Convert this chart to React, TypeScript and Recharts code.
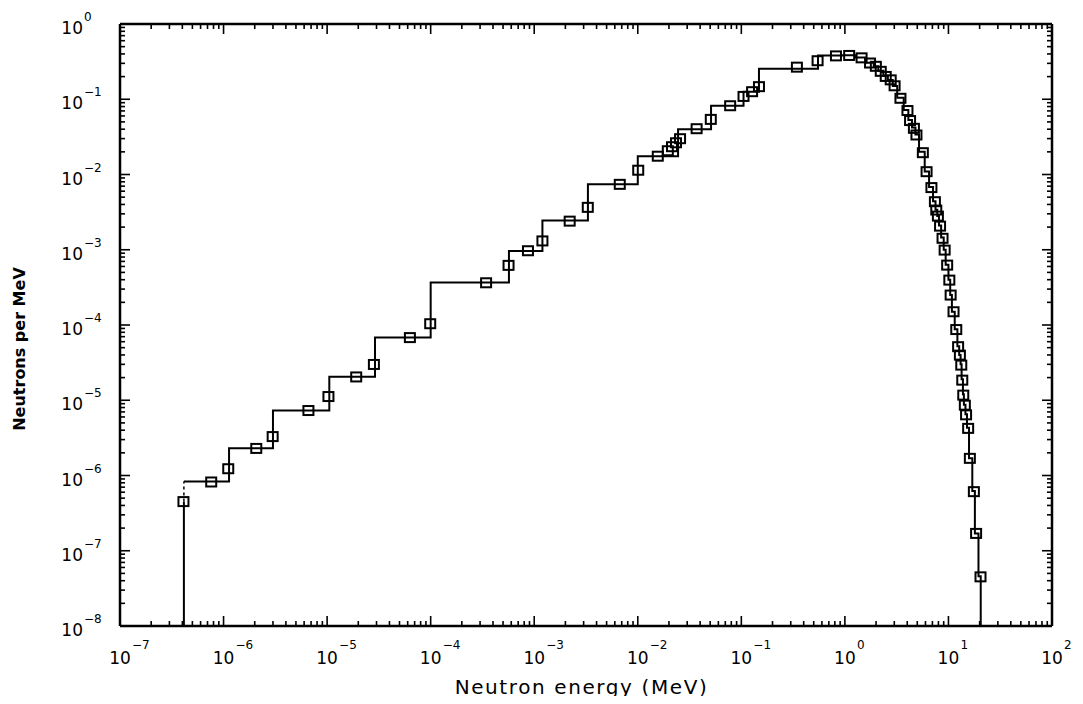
import { ComposedChart, Line, Scatter, XAxis, YAxis } from 'recharts';

// histogram group boundaries (MeV) and flux per group
const BIN_EDGES = [
  4.14e-7, 1.13e-6, 3.0e-6, 1.05e-5, 2.9e-5, 1.0e-4, 5.7e-4, 1.2e-3, 3.3e-3, 1.0e-2,
  2.45e-2, 5.1e-2, 0.105, 0.148, 0.55, 0.95, 1.25, 1.6, 1.9, 2.1,
  2.35, 2.6, 2.9, 3.2, 3.7, 4.1, 4.45, 4.8, 5.2, 5.9,
  6.5, 7.1, 7.5, 7.8, 8.1, 8.5, 9.0, 9.4, 10.0, 10.4,
  10.8, 11.5, 12.2, 12.7, 13.1, 13.4, 13.8, 14.1, 14.6, 15.1,
  15.8, 17.0, 18.0, 19.5, 20.5,
];
const BIN_VALUES = [
  8.3e-7, 2.3e-6, 7.3e-6, 2.05e-5, 6.8e-5, 3.66e-4, 9.6e-4, 2.45e-3, 7.4e-3, 1.75e-2,
  4.0e-2, 8.2e-2, 0.126, 0.255, 0.38, 0.385, 0.36, 0.305, 0.275, 0.24,
  0.205, 0.18, 0.15, 0.105, 0.072, 0.053, 0.042, 0.034, 0.02, 0.011,
  6.8e-3, 4.4e-3, 3.4e-3, 2.8e-3, 2.1e-3, 1.45e-3, 1.0e-3, 6.3e-4, 4.0e-4, 2.5e-4,
  1.5e-4, 8.8e-5, 5.2e-5, 4.0e-5, 3.0e-5, 1.9e-5, 1.2e-5, 8.7e-6, 6.5e-6, 4.3e-6,
  1.7e-6, 6.2e-7, 1.7e-7, 4.6e-8,
];

// square markers
const MARKER_E = [
  4.1e-7, 7.6e-7, 1.11e-6, 2.07e-6, 2.98e-6, 6.6e-6, 1.03e-5, 1.91e-5, 2.83e-5, 6.3e-5,
  9.9e-5, 3.43e-4, 5.65e-4, 8.7e-4, 1.2e-3, 2.2e-3, 3.29e-3, 6.7e-3, 1.01e-2, 1.56e-2,
  1.95e-2, 2.14e-2, 2.34e-2, 2.56e-2, 3.7e-2, 5.07e-2, 7.8e-2, 0.105, 0.127, 0.148,
  0.344, 0.545, 0.82, 1.10, 1.45, 1.75, 1.99, 2.22, 2.48, 2.77,
  3.02, 3.44, 4.02, 4.26, 4.64, 4.91, 5.66, 6.15, 6.85, 7.40,
  7.63, 7.91, 8.30, 8.77, 9.19, 9.72, 10.2, 10.5, 11.2, 11.9,
  12.4, 12.9, 13.3, 13.6, 13.9, 14.4, 14.8, 15.5, 16.1, 17.6,
  18.5, 20.4,
];
const MARKER_V = [
  4.5e-7, 8.2e-7, 1.23e-6, 2.29e-6, 3.29e-6, 7.3e-6, 1.12e-5, 2.04e-5, 2.99e-5, 6.8e-5,
  1.04e-4, 3.64e-4, 6.2e-4, 9.7e-4, 1.31e-3, 2.4e-3, 3.66e-3, 7.4e-3, 1.14e-2, 1.75e-2,
  2.07e-2, 2.34e-2, 2.64e-2, 2.99e-2, 4.06e-2, 5.4e-2, 8.2e-2, 0.109, 0.126, 0.147,
  0.267, 0.325, 0.377, 0.382, 0.355, 0.303, 0.274, 0.235, 0.201, 0.181,
  0.151, 0.103, 0.0708, 0.0521, 0.0411, 0.0335, 0.0195, 0.0109, 6.7e-3, 4.35e-3,
  3.37e-3, 2.8e-3, 2.06e-3, 1.42e-3, 9.9e-4, 6.25e-4, 3.95e-4, 2.5e-4, 1.5e-4, 8.7e-5,
  5.15e-5, 3.98e-5, 2.93e-5, 1.85e-5, 1.17e-5, 8.6e-6, 6.4e-6, 4.23e-6, 1.69e-6, 6.1e-7,
  1.7e-7, 4.5e-8,
];

const X_DECADES = [-7, -6, -5, -4, -3, -2, -1, 0, 1, 2];
const Y_DECADES = [-8, -7, -6, -5, -4, -3, -2, -1, 0];
const MINOR = [2, 3, 4, 5, 6, 7, 8, 9];

const X_MIN = 1e-7;
const X_MAX = 1e2;
const Y_MIN = 1e-8;
const Y_MAX = 1;

const FONT = '"DejaVu Sans", sans-serif';

const logTicks = (decades: number[]) => {
  const out: number[] = [];
  decades.forEach((d, i) => {
    out.push(Math.pow(10, d));
    if (i < decades.length - 1) MINOR.forEach(m => out.push(m * Math.pow(10, d)));
  });
  return out;
};
const X_TICKS = logTicks(X_DECADES);
const Y_TICKS = logTicks(Y_DECADES);

const decadeOf = (v: number) => {
  const l = Math.log10(v);
  const r = Math.round(l);
  return Math.abs(l - r) < 1e-6 ? r : null;
};

// step outline: across each group, down at the last edge
const stepData: { e: number; v: number }[] = [];
BIN_VALUES.forEach((v, i) => {
  stepData.push({ e: BIN_EDGES[i], v });
  stepData.push({ e: BIN_EDGES[i + 1], v });
});
stepData.push({ e: BIN_EDGES[BIN_EDGES.length - 1], v: Y_MIN });

// first edge: solid up to the first marker, dashed above it
const stemSolid = [{ e: BIN_EDGES[0], v: Y_MIN }, { e: BIN_EDGES[0], v: MARKER_V[0] }];
const stemDashed = [{ e: BIN_EDGES[0], v: MARKER_V[0] }, { e: BIN_EDGES[0], v: BIN_VALUES[0] }];

const markerData = MARKER_E.map((e, i) => ({ e, v: MARKER_V[i] }));

const fmtExp = (n: number) => (n < 0 ? `\u2212${-n}` : `${n}`);

const BottomTick = (props: any) => {
  const { x, y, payload } = props;
  const d = decadeOf(payload.value);
  return (
    <g>
      <line x1={x} x2={x} y1={y} y2={y - (d !== null ? 10 : 5)} stroke="#000" strokeWidth={1.6} />
      {d !== null && (
        <g fontFamily={FONT} fill="#000">
          <text x={x} y={y + 38} fontSize={17} textAnchor="middle">10</text>
          <text x={x + 12} y={y + 23} fontSize={12}>{fmtExp(d)}</text>
        </g>
      )}
    </g>
  );
};

const TopTick = (props: any) => {
  const { x, y, payload } = props;
  const d = decadeOf(payload.value);
  return <line x1={x} x2={x} y1={y} y2={y + (d !== null ? 10 : 5)} stroke="#000" strokeWidth={1.6} />;
};

const LeftTick = (props: any) => {
  const { x, y, payload } = props;
  const d = decadeOf(payload.value);
  return (
    <g>
      <line x1={x} x2={x + (d !== null ? 10 : 5)} y1={y} y2={y} stroke="#000" strokeWidth={1.6} />
      {d !== null && (
        <g fontFamily={FONT} fill="#000">
          <text x={x - 37} y={y + 10} fontSize={17} textAnchor="end">10</text>
          <text x={x - 36} y={y - 3} fontSize={12}>{fmtExp(d)}</text>
        </g>
      )}
    </g>
  );
};

const RightTick = (props: any) => {
  const { x, y, payload } = props;
  const d = decadeOf(payload.value);
  return <line x1={x} x2={x - (d !== null ? 10 : 5)} y1={y} y2={y} stroke="#000" strokeWidth={1.6} />;
};

const axisLine = { stroke: '#000', strokeWidth: 2.5 };

export default function App() {
  return (
    <div style={{ position: 'relative', width: 1083, height: 704, margin: -8, background: '#fff' }}>
      <ComposedChart
        width={1083}
        height={704}
        margin={{ top: 22, right: 29, bottom: 38, left: 60 }}
      >
        <XAxis
          xAxisId="b"
          dataKey="e"
          type="number"
          scale="log"
          domain={[X_MIN, X_MAX]}
          allowDataOverflow
          ticks={X_TICKS}
          interval={0}
          height={40}
          tickSize={0}
          tickMargin={0}
          tickLine={false}
          axisLine={axisLine}
          tick={BottomTick}
        />
        <XAxis
          xAxisId="t"
          orientation="top"
          dataKey="e"
          type="number"
          scale="log"
          domain={[X_MIN, X_MAX]}
          allowDataOverflow
          ticks={X_TICKS}
          interval={0}
          height={2}
          tickSize={0}
          tickMargin={0}
          tickLine={false}
          axisLine={axisLine}
          tick={TopTick}
        />
        <YAxis
          yAxisId="l"
          dataKey="v"
          type="number"
          scale="log"
          domain={[Y_MIN, Y_MAX]}
          allowDataOverflow
          ticks={Y_TICKS}
          interval={0}
          width={60}
          tickSize={0}
          tickMargin={0}
          tickLine={false}
          axisLine={axisLine}
          tick={LeftTick}
        />
        <YAxis
          yAxisId="r"
          orientation="right"
          dataKey="v"
          type="number"
          scale="log"
          domain={[Y_MIN, Y_MAX]}
          allowDataOverflow
          ticks={Y_TICKS}
          interval={0}
          width={2}
          tickSize={0}
          tickMargin={0}
          tickLine={false}
          axisLine={axisLine}
          tick={RightTick}
        />
        <Line
          xAxisId="b"
          yAxisId="l"
          data={stemSolid}
          dataKey="v"
          type="linear"
          stroke="#000"
          strokeWidth={2}
          dot={false}
          activeDot={false}
          isAnimationActive={false}
        />
        <Line
          xAxisId="b"
          yAxisId="l"
          data={stemDashed}
          dataKey="v"
          type="linear"
          stroke="#000"
          strokeWidth={1.5}
          strokeDasharray="3 3"
          dot={false}
          activeDot={false}
          isAnimationActive={false}
        />
        <Line
          xAxisId="b"
          yAxisId="l"
          data={stepData}
          dataKey="v"
          type="linear"
          stroke="#000"
          strokeWidth={2}
          dot={false}
          activeDot={false}
          isAnimationActive={false}
        />
        <Scatter
          xAxisId="b"
          yAxisId="l"
          data={markerData}
          dataKey="v"
          isAnimationActive={false}
          shape={(p: any) => (
            <rect x={p.cx - 5} y={p.cy - 4.5} width={10} height={9} fill="none" stroke="#000" strokeWidth={2} />
          )}
        />
        {/* keep top/right axes alive with an empty series */}
        <Scatter xAxisId="t" yAxisId="r" data={[]} dataKey="v" isAnimationActive={false} />
      </ComposedChart>
      <div
        style={{
          position: 'absolute', left: 0, width: 1083, top: 675, textAlign: 'center',
          paddingLeft: 80, boxSizing: 'border-box',
          fontFamily: FONT, fontSize: 20, letterSpacing: 1.6, color: '#000',
        }}
      >
        Neutron energy (MeV)
      </div>
      <div
        style={{
          position: 'absolute', left: 19, top: 349, transform: 'translate(-50%, -50%) rotate(-90deg)',
          whiteSpace: 'nowrap', fontFamily: FONT, fontSize: 16, fontWeight: 'bold', color: '#000',
        }}
      >
        Neutrons per MeV
      </div>
    </div>
  );
}
